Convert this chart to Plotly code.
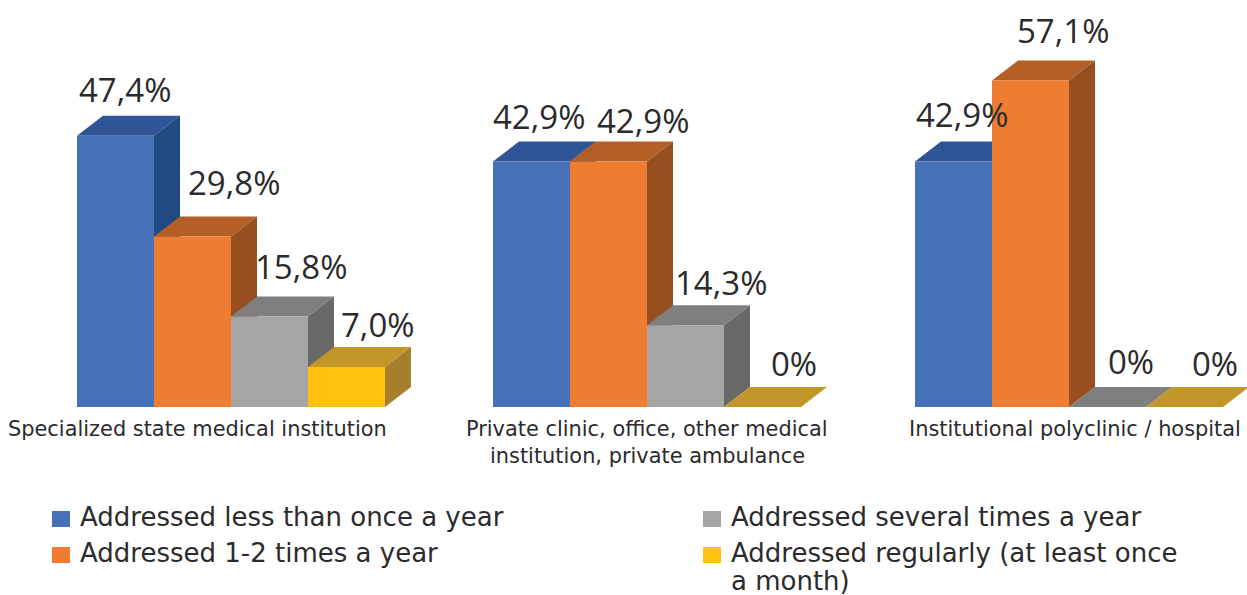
import plotly.graph_objects as go

# Data
categories = [
    "Specialized state medical institution",
    "Private clinic, office, other medical<br>institution, private ambulance",
    "Institutional polyclinic / hospital",
]
series_names = [
    "Addressed less than once a year",
    "Addressed 1-2 times a year",
    "Addressed several times a year",
    "Addressed regularly (at least once<br>a month)",
]
less_than_once = [47.4, 42.9, 42.9]
one_two_times = [29.8, 42.9, 57.1]
several_times = [15.8, 14.3, 0]
regularly = [7.0, 0, 0]
series_values = [less_than_once, one_two_times, several_times, regularly]

# Styling / layout constants (x axis in window pixels, 5.72 px per percentage point)
W, H = 1247, 595
BASE_PX = 407
PX_PER_UNIT = 5.72
BAR_W = 77
DEPTH_X = 26
DEPTH_Y = 20 / PX_PER_UNIT
group_starts = [77, 493, 915]
front_colors = ["#4670B7", "#EF7D31", "#A5A5A5", "#FFC010"]
top_colors = ["#2F5597", "#B45F26", "#7F7F7F", "#C3962A"]
side_colors = ["#214A82", "#984F1F", "#696969", "#A57F2B"]
TEXT = "#2b2a2c"
FONT = "DejaVu Sans"
LABEL_FONT = "Open Sans"

# label centres relative to the bar's left edge (px) and top (px above)
label_dx = [[48, 80, 70, 70], [46, 73, 74, 70], [47, 71, 62, 69]]
label_dy = [[46, 54, 50, 42], [45, 41, 43, 44], [47, 50, 46, 44]]
cat_centers = [197, 647, 1075]
cat_px_y = 429
cat_line_gap = 27
legend_px = [(52, 519), (52, 555), (703, 519), (703, 555)]
legend_line_gap = 28


def y_of(px):
    return (BASE_PX - px) / PX_PER_UNIT


fig = go.Figure()
annotations = []
shapes = []

# Top and side faces, back to front, on the base axes
for g, start in enumerate(group_starts):
    for s, values in enumerate(series_values):
        v = values[g]
        x0 = start + s * BAR_W
        x1 = x0 + BAR_W
        fig.add_trace(go.Scatter(
            x=[x0, x1, x1 + DEPTH_X, x0 + DEPTH_X, x0],
            y=[v, v, v + DEPTH_Y, v + DEPTH_Y, v],
            fill="toself", fillcolor=top_colors[s], mode="lines",
            line=dict(width=0), hoverinfo="skip", showlegend=False))
        if v > 0:
            fig.add_trace(go.Scatter(
                x=[x1, x1 + DEPTH_X, x1 + DEPTH_X, x1, x1],
                y=[0, DEPTH_Y, v + DEPTH_Y, v, 0],
                fill="toself", fillcolor=side_colors[s], mode="lines",
                line=dict(width=0), hoverinfo="skip", showlegend=False))
        label = "0%" if v == 0 else f"{v:.1f}".replace(".", ",") + "%"
        annotations.append(dict(
            x=x0 + label_dx[g][s], y=v + label_dy[g][s] / PX_PER_UNIT,
            xref="x", yref="y", text=label, showarrow=False,
            xanchor="center", yanchor="middle",
            font=dict(family=LABEL_FONT, size=33, color=TEXT)))

# Front faces on an overlay axis so they sit above the depth faces
for s, values in enumerate(series_values):
    fig.add_trace(go.Bar(
        x=[start + s * BAR_W + BAR_W / 2 for start in group_starts],
        y=values, width=BAR_W, name=series_names[s].replace("<br>", " "),
        marker=dict(color=front_colors[s], line=dict(width=0)),
        xaxis="x2", yaxis="y2", showlegend=False))

for c, cx in zip(categories, cat_centers):
    for i, line in enumerate(c.split("<br>")):
        annotations.append(dict(
            x=cx, y=y_of(cat_px_y + i * cat_line_gap), xref="x", yref="y",
            text=line, showarrow=False,
            xanchor="center", yanchor="middle",
            font=dict(family=FONT, size=20.9, color=TEXT)))

for s, (lx, ly) in enumerate(legend_px):
    shapes.append(dict(type="rect", xref="x", yref="y",
                       x0=lx, x1=lx + 18, y0=y_of(ly + 8), y1=y_of(ly - 8),
                       fillcolor=front_colors[s], line=dict(width=0)))
    for i, line in enumerate(series_names[s].split("<br>")):
        annotations.append(dict(
            x=lx + 26, y=y_of(ly - 2 + i * legend_line_gap), xref="x", yref="y",
            text=line, showarrow=False, xanchor="left", yanchor="middle",
            font=dict(family=FONT, size=26, color=TEXT)))

axis_x = dict(range=[0, W], visible=False, fixedrange=True)
axis_y = dict(range=[y_of(H), y_of(0)], visible=False, fixedrange=True)
fig.update_layout(
    width=W, height=H, margin=dict(l=0, r=0, t=0, b=0),
    paper_bgcolor="white", plot_bgcolor="white",
    barmode="overlay", showlegend=False,
    xaxis=axis_x, yaxis=axis_y,
    xaxis2=dict(axis_x, overlaying="x"), yaxis2=dict(axis_y, overlaying="y"),
    annotations=annotations, shapes=shapes,
)
fig.write_html(
    "out.html",
    config={"displayModeBar": False},
    post_script="document.body.style.margin='0';document.body.style.overflow='hidden';",
)
